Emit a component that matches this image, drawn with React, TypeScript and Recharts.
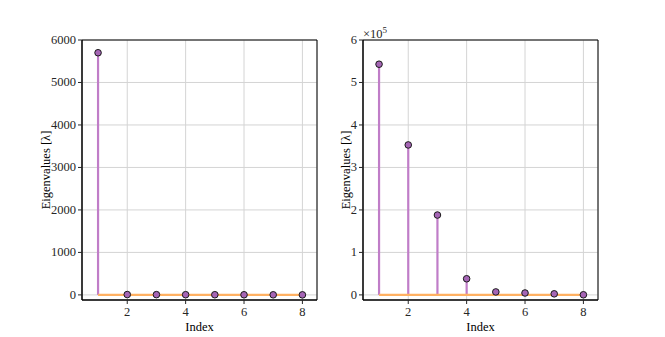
import React from "react";
import {
  ComposedChart,
  Scatter,
  XAxis,
  YAxis,
  CartesianGrid,
  ReferenceLine,
  ReferenceArea,
  Label,
} from "recharts";

const indices = [1, 2, 3, 4, 5, 6, 7, 8];
// left panel eigenvalues
const eigenLeft = [5700, 8, 6, 5, 4, 3, 2, 1];
// right panel eigenvalues (shown in units of 1e5)
const eigenRight = [543000, 353000, 188000, 38000, 7000, 4500, 2500, 300];

const xTicks = [2, 4, 6, 8];
const yTicksLeft = [0, 1000, 2000, 3000, 4000, 5000, 6000];
const yTicksRight = [0, 100000, 200000, 300000, 400000, 500000, 600000];

const FONT = "Liberation Serif";
const STEM = "#c07dc8";
const MARKER = "#a565b5";
const BASE = "#ffb162";
const GRID = "#d4d4d4";
const INK = "#262626";

const Dot = (props: any) => {
  const { cx, cy } = props;
  if (cx == null || cy == null) return null;
  return <circle cx={cx} cy={cy} r={3.3} fill={MARKER} stroke="#1a1a1a" strokeWidth={1} />;
};

const XTick = (props: any) => {
  const { x, y, payload } = props;
  return (
    <text x={x} y={y + 10} textAnchor="middle" fill={INK} fontSize={12.5} fontFamily={FONT}>
      {payload.value}
    </text>
  );
};

const makeYTick = (fmt?: (v: number) => string) => (props: any) => {
  const { x, y, payload } = props;
  return (
    <text x={x} y={y + 4} textAnchor="end" fill={INK} fontSize={12.5} fontFamily={FONT}>
      {fmt ? fmt(payload.value) : payload.value}
    </text>
  );
};

interface StemProps {
  values: number[];
  yDomain: [number, number];
  yTicks: number[];
  yFormat?: (v: number) => string;
  yAxisWidth: number;
  labelDx: number;
  rightMargin: number;
  width: number;
}

function StemChart({ values, yDomain, yTicks, yFormat, yAxisWidth, labelDx, rightMargin, width }: StemProps) {
  const data = indices.map((x, i) => ({ x, y: values[i] }));
  const xDomain: [number, number] = [0.45, 8.5];
  const YTick = makeYTick(yFormat);
  return (
    <ComposedChart
      width={width}
      height={337}
      data={data}
      margin={{ top: 40, right: rightMargin, bottom: 0, left: 0 }}
      style={{ fontFamily: FONT }}
    >
      <CartesianGrid stroke={GRID} strokeWidth={1} />
      <XAxis
        dataKey="x"
        type="number"
        domain={xDomain}
        ticks={xTicks}
        allowDataOverflow
        height={37}
        tick={<XTick />}
        tickSize={4}
        tickLine={{ stroke: INK }}
        axisLine={{ stroke: "#000" }}
      >
        <Label
          value="Index"
          position="insideBottom"
          offset={6}
          style={{ fill: "#000", fontSize: 12.5, fontFamily: FONT }}
        />
      </XAxis>
      <YAxis
        dataKey="y"
        type="number"
        domain={yDomain}
        ticks={yTicks}
        allowDataOverflow
        width={yAxisWidth}
        tick={<YTick />}
        tickSize={4}
        tickLine={{ stroke: INK }}
        axisLine={{ stroke: "#000" }}
      >
        <Label
          value="Eigenvalues [λ]"
          angle={-90}
          position="center"
          dx={labelDx}
          style={{ fill: "#000", fontSize: 12.5, fontFamily: FONT, textAnchor: "middle" }}
        />
      </YAxis>
      {data.map((d) => (
        <ReferenceLine
          key={`stem-${d.x}`}
          segment={[
            { x: d.x, y: 0 },
            { x: d.x, y: d.y },
          ]}
          stroke={STEM}
          strokeWidth={2.2}
        />
      ))}
      <ReferenceLine
        segment={[
          { x: indices[0], y: 0 },
          { x: indices[indices.length - 1], y: 0 },
        ]}
        stroke={BASE}
        strokeWidth={2.4}
      />
      <ReferenceArea
        x1={xDomain[0]}
        x2={xDomain[1]}
        y1={yDomain[0]}
        y2={yDomain[1]}
        fill="none"
        fillOpacity={0}
        stroke="#000"
        strokeWidth={1}
        ifOverflow="visible"
      />
      <Scatter dataKey="y" shape={<Dot />} isAnimationActive={false} />
    </ComposedChart>
  );
}

export default function App() {
  return (
    <div
      style={{
        position: "absolute",
        left: 0,
        top: 0,
        width: 665,
        height: 337,
        background: "#fff",
        fontFamily: FONT,
      }}
    >
      <div style={{ position: "absolute", left: 0, top: 0 }}>
        <StemChart
          values={eigenLeft}
          yDomain={[-120, 6000]}
          yTicks={yTicksLeft}
          yAxisWidth={82}
          labelDx={5}
          rightMargin={15}
          width={332}
        />
      </div>
      <div style={{ position: "absolute", left: 332, top: 0 }}>
        <StemChart
          values={eigenRight}
          yDomain={[-12000, 600000]}
          yTicks={yTicksRight}
          yFormat={(v: number) => `${v / 100000}`}
          yAxisWidth={31}
          labelDx={-2}
          rightMargin={67}
          width={333}
        />
      </div>
      <span
        style={{
          position: "absolute",
          left: 363,
          top: 27,
          fontSize: 12.5,
          color: INK,
          lineHeight: "14px",
        }}
      >
        ×10<sup style={{ fontSize: 9, verticalAlign: "5px", lineHeight: 0 }}>5</sup>
      </span>
    </div>
  );
}
